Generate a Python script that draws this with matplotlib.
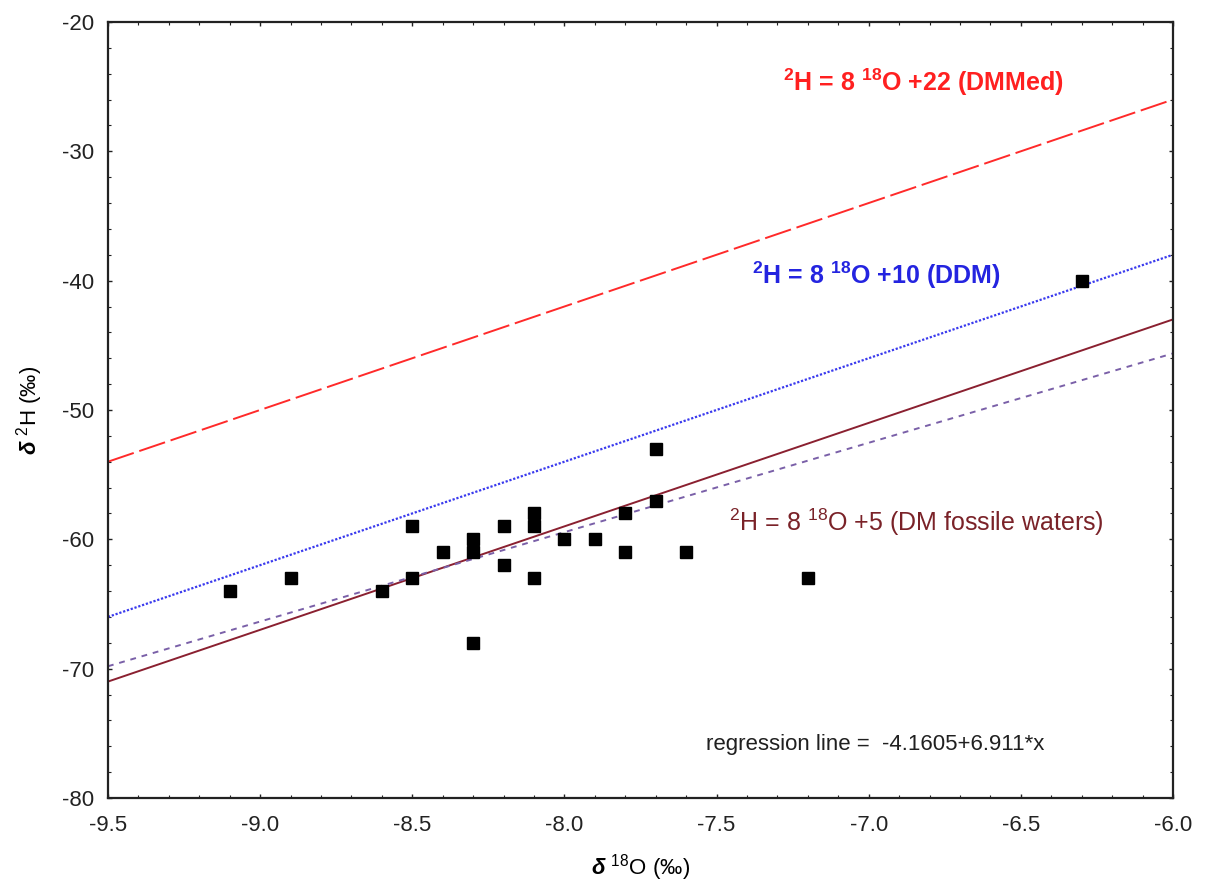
import numpy as np
import matplotlib as mpl
mpl.use('Agg')
import matplotlib.pyplot as plt
from matplotlib.ticker import MultipleLocator

# data
d18O = [-9.1, -8.9, -8.6, -8.5, -8.5, -8.4, -8.3, -8.3, -8.3, -8.2, -8.2,
        -8.1, -8.1, -8.1, -8.0, -7.9, -7.8, -7.8, -7.7, -7.7, -7.6, -7.2, -6.3]
d2H = [-64, -63, -64, -59, -63, -61, -60, -61, -68, -59, -62,
       -58, -59, -63, -60, -60, -58, -61, -53, -57, -61, -63, -40]

# lines: 2H = slope*18O + intercept
mwl_slope = 8
dmmed_int = 22
ddm_int = 10
fossil_int = 5
reg_int = -4.1605
reg_slope = 6.911

plt.rcParams['font.family'] = ['Liberation Sans', 'DejaVu Sans']
plt.rcParams['axes.unicode_minus'] = False
plt.rcParams['mathtext.fontset'] = 'custom'
plt.rcParams['mathtext.rm'] = 'Liberation Sans'
plt.rcParams['mathtext.it'] = 'Liberation Sans:italic'
plt.rcParams['mathtext.bf'] = 'Liberation Sans:bold'
plt.rcParams['mathtext.bfit'] = 'Liberation Sans:bold:italic'

fig = plt.figure(figsize=(12.05, 8.9), dpi=100)
ax = fig.add_axes([0.0896, 0.1034, 0.8838, 0.8719])

xs = np.array([-9.5, -6.0])
ax.plot(xs, mwl_slope*xs + dmmed_int, color='#ff2a2a', lw=1.4, ls=(0, (14, 3)))
ax.plot(xs, mwl_slope*xs + ddm_int, color='#3a3aee', lw=1.6, ls=(0, (1, 0.8)))
ax.plot(xs, mwl_slope*xs + fossil_int, color='#8a2030', lw=1.4, ls='-')
ax.plot(xs, reg_int + reg_slope*xs, color='#7a60a8', lw=1.4, ls=(0, (3, 3)))
ax.plot(d18O, d2H, 's', color='black', ms=9, zorder=5)

ax.text(-7.282, -24.7, r'$^{\mathbf{2}}$H = 8 $^{\mathbf{18}}$O +22 (DMMed)',
        color='#ff2020', fontsize=18, fontweight='bold', va='center', ha='left')
ax.text(-7.385, -39.6, r'$^{\mathbf{2}}$H = 8 $^{\mathbf{18}}$O +10 (DDM)',
        color='#2424e0', fontsize=18, fontweight='bold', va='center', ha='left')
ax.text(-7.459, -58.7, r'$^{2}$H = 8 $^{18}$O +5 (DM fossile waters)',
        color='#7a2228', fontsize=18, va='center', ha='left')
ax.text(-7.535, -75.9, 'regression line =  -4.1605+6.911*x',
        color='#202020', fontsize=16, va='center', ha='left')

ax.set_xlim(-9.5, -6.0)
ax.set_ylim(-80, -20)
ax.xaxis.set_major_locator(MultipleLocator(0.5))
ax.yaxis.set_major_locator(MultipleLocator(10))
ax.xaxis.set_minor_locator(MultipleLocator(0.1))
ax.yaxis.set_minor_locator(MultipleLocator(2))
ax.xaxis.set_major_formatter(plt.FormatStrFormatter('%.1f'))
ax.tick_params(which='both', direction='in', top=True, right=True,
               labelsize=16, colors='#222222')
ax.tick_params(which='major', length=3, width=1)
ax.tick_params(axis='x', which='major', pad=12)
ax.tick_params(axis='y', which='major', pad=10)
ax.tick_params(which='minor', length=2, width=0.8)
for s in ax.spines.values():
    s.set_linewidth(1.6)
    s.set_color('#222222')

ax.set_xlabel(r'$\mathbfit{\delta}$ $^{18}$O ($\mathit{‰}$)', fontsize=16, labelpad=12)
ax.set_ylabel(r'$\mathbfit{\delta}$ $^{2}$H ($\mathit{‰}$)', fontsize=16, labelpad=12)

fig.savefig('out.png', dpi=100)
